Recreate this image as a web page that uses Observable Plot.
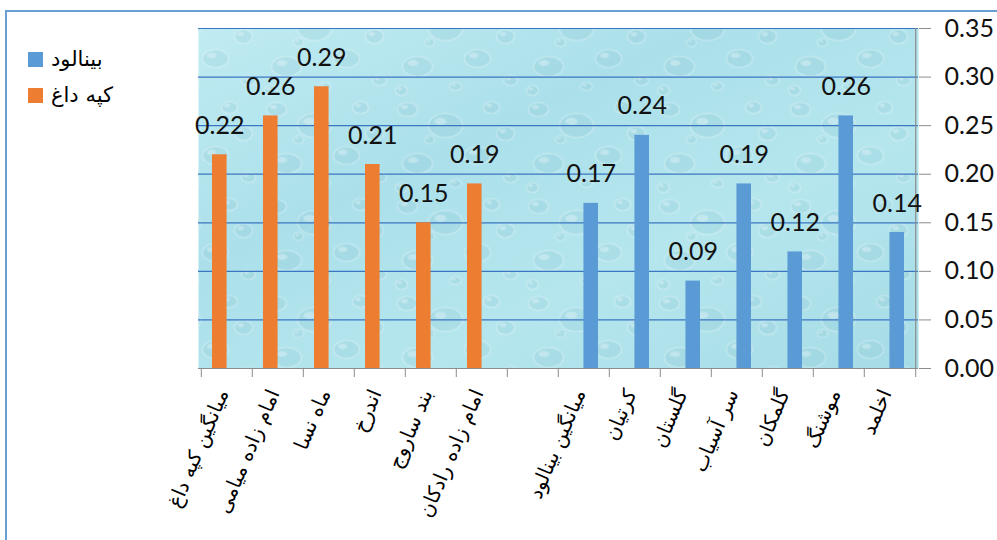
<!DOCTYPE html>
<html>
<head>
<meta charset="utf-8">
<script src="https://cdn.jsdelivr.net/npm/d3@7"></script>
<script src="https://cdn.jsdelivr.net/npm/@observablehq/plot@0.6"></script>
<style>
  body { margin: 0; background: #fff; }
  #wrap { position: relative; width: 997px; height: 540px; overflow: hidden; background: #fff; }
  #chart { position: absolute; left: 0; top: 0; }
  #border { position: absolute; left: 5px; top: 10px; width: 1100px; height: 600px;
            border-top: 2.5px solid #6a9fd6; border-left: 2.5px solid #6a9fd6; box-sizing: border-box; }
  .leg { position: absolute; left: 28px; display: flex; align-items: center; gap: 8px;
         font-family: "DejaVu Sans", sans-serif; font-size: 21px; color: #000; }
  .sw { width: 15px; height: 15px; display: inline-block; }
</style>
</head>
<body>
<div id="wrap">
  <div id="border"></div>
  <div id="chart"></div>
  <div id="legend"></div>
</div>
<script>
// ---- data ----
const kopehCategories = ["میانگین کپه داغ", "امام زاده میامی", "ماه نسا", "اندرخ", "بند ساروج", "امام زاده رادکان"];
const kopehValues = [0.22, 0.26, 0.29, 0.21, 0.15, 0.19];
const binaludCategories = ["میانگین بینالود", "کرتیان", "گلستان", "سر آسیاب", "گلمکان", "موشنگ", "اخلمد"];
const binaludValues = [0.17, 0.24, 0.09, 0.19, 0.12, 0.26, 0.14];
const seriesNames = ["بینالود", "کپه داغ"];
const seriesColors = ["#5b9bd5", "#ed7d31"];
const yTicks = [0, 0.05, 0.10, 0.15, 0.20, 0.25, 0.30, 0.35];
const gapCategory = " ";

const domain = [...kopehCategories, gapCategory, ...binaludCategories];
const kopeh = kopehCategories.map((c, i) => ({cat: c, value: kopehValues[i]}));
const binalud = binaludCategories.map((c, i) => ({cat: c, value: binaludValues[i]}));

const W = 997, H = 540, mL = 198, mR = 79, mT = 28, mB = 172;
const bw = (W - mL - mR) / domain.length;
const barW = 15, gapW = 11;
const fmt = d3.format(".2f");

const plot = Plot.plot({
  width: W, height: H,
  marginLeft: mL, marginRight: mR, marginTop: mT, marginBottom: mB,
  style: {background: "transparent", overflow: "visible"},
  x: {domain, padding: 0},
  y: {domain: [0, 0.35]},
  marks: [
    Plot.frame({fill: "url(#waterGrad)", stroke: null}),
    Plot.frame({fill: "url(#waterDrops)", stroke: null}),
    Plot.gridY(yTicks, {stroke: "#3b76c2", strokeOpacity: 1, strokeWidth: 1.2}),
    Plot.ruleY([0], {stroke: "#8c8c8c", strokeWidth: 1.2}),
    Plot.ruleX([domain[domain.length - 1]], {dx: bw / 2, y1: 0, y2: 0.35, stroke: "#8c8c8c", strokeWidth: 1.2}),
    Plot.barY(kopeh, {x: "cat", y: "value", fill: seriesColors[1],
      insetLeft: gapW, insetRight: bw - gapW - barW}),
    Plot.barY(binalud, {x: "cat", y: "value", fill: seriesColors[0],
      insetLeft: bw - gapW - barW, insetRight: gapW}),
    Plot.text(kopeh, {x: "cat", y: "value", text: d => fmt(d.value),
      dx: gapW + barW / 2 - bw / 2, dy: -29, fontFamily: "Lato", fontSize: 25, fill: "#111"}),
    Plot.text(binalud, {x: "cat", y: "value", text: d => fmt(d.value),
      dx: bw / 2 - gapW - barW / 2, dy: -29, fontFamily: "Lato", fontSize: 25, fill: "#111"}),
    Plot.axisY(yTicks, {anchor: "right", tickSize: 12, tickPadding: 14, tickFormat: fmt,
      label: null, stroke: "#8c8c8c", fill: "#111", fontFamily: "Lato", fontSize: 25}),
    Plot.axisX(domain, {tickSize: 9, tickFormat: () => "", dx: -bw / 2, label: null, stroke: "#8c8c8c"}),
    Plot.axisX([domain[domain.length - 1]], {tickSize: 9, tickFormat: () => "", dx: bw / 2, label: null, stroke: "#8c8c8c"}),
    Plot.axisX(domain, {tickSize: 0, tickPadding: 22, tickRotate: -67, label: null, dx: -4,
      fontFamily: "DejaVu Sans", fontSize: 20, fill: "#000"})
  ]
});

// background defs (texture styling only)
const svg = d3.select(plot);
const defs = svg.insert("defs", ":first-child");
const lg = defs.append("linearGradient").attr("id", "waterGrad")
  .attr("x1", 0).attr("y1", 0).attr("x2", 1).attr("y2", 1);
[["0%", "#c0ebf2"], ["35%", "#abe0ea"], ["65%", "#b5e6ee"], ["100%", "#a6dce6"]]
  .forEach(([o, c]) => lg.append("stop").attr("offset", o).attr("stop-color", c));
const pat = defs.append("pattern").attr("id", "waterDrops")
  .attr("patternUnits", "userSpaceOnUse").attr("width", 131).attr("height", 97);
const drops = [[14, 12, 10, 7], [52, 28, 17, 12], [98, 10, 8, 6], [84, 58, 13, 9], [24, 66, 15, 10],
               [117, 80, 7, 5], [62, 86, 6, 4], [36, 42, 5, 4], [112, 36, 9, 7], [8, 90, 6, 5]];
drops.forEach(([cx, cy, rx, ry]) => {
  pat.append("ellipse").attr("cx", cx).attr("cy", cy).attr("rx", rx).attr("ry", ry)
    .attr("fill", "rgba(110,175,190,0.14)").attr("stroke", "rgba(255,255,255,0.35)").attr("stroke-width", 1.2);
  pat.append("ellipse").attr("cx", cx - rx * 0.3).attr("cy", cy - ry * 0.35).attr("rx", rx * 0.35).attr("ry", ry * 0.3)
    .attr("fill", "rgba(255,255,255,0.3)");
});

document.getElementById("chart").appendChild(plot);

// legend
const legend = document.getElementById("legend");
[[seriesNames[0], seriesColors[0], 47], [seriesNames[1], seriesColors[1], 83]].forEach(([name, color, top]) => {
  const div = document.createElement("div");
  div.className = "leg";
  div.style.top = top + "px";
  div.innerHTML = `<span class="sw" style="background:${color}"></span><span>${name}</span>`;
  legend.appendChild(div);
});
</script>
</body>
</html>
